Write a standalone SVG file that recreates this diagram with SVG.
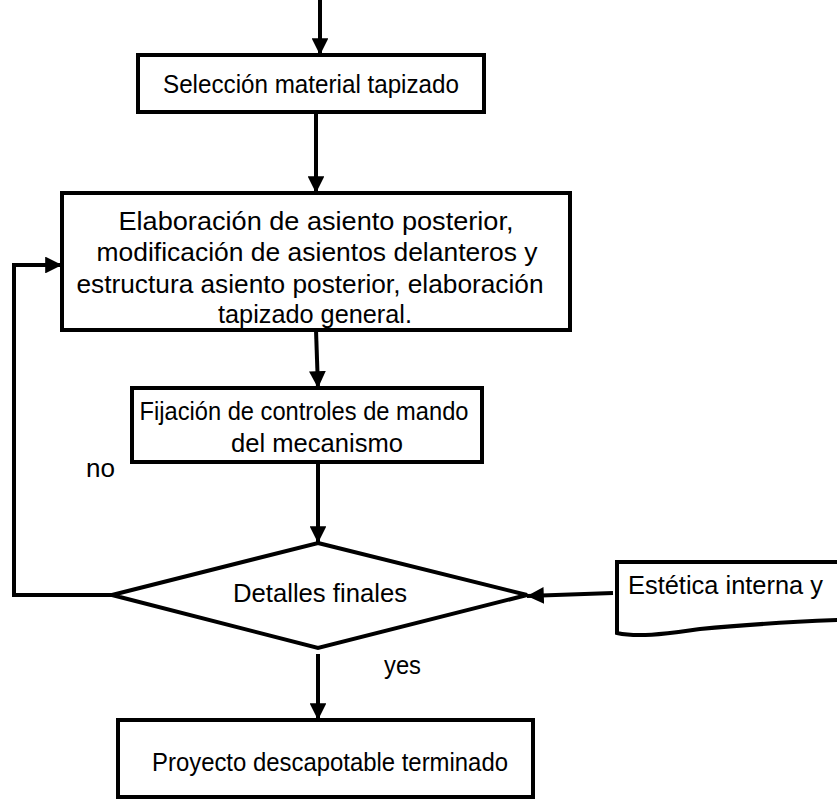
<svg xmlns="http://www.w3.org/2000/svg" width="837" height="799" viewBox="0 0 837 799">
  <style>
    .box { fill: #ffffff; stroke: #000000; stroke-width: 4; }
    .edge { fill: none; stroke: #000000; stroke-width: 4; }
    .lbl { font-family: "Liberation Sans", Arial, sans-serif; font-size: 26px; fill: #000000; }
    .mid { text-anchor: middle; }
  </style>
  <defs>
    <marker id="arrow" viewBox="0 0 10 10" refX="10" refY="5" markerWidth="4.2" markerHeight="4.2" markerUnits="strokeWidth" orient="auto">
      <path d="M0,0 L10,5 L0,10 Z" fill="#000000"/>
    </marker>
  </defs>

  <!-- connectors -->
  <g id="connectors">
    <path class="edge" d="M320,0 L320,55" marker-end="url(#arrow)"/>
    <path class="edge" d="M316,112 L316,193" marker-end="url(#arrow)"/>
    <path class="edge" d="M316,330 L318,388" marker-end="url(#arrow)"/>
    <path class="edge" d="M318,462 L318,543" marker-end="url(#arrow)"/>
    <path class="edge" d="M318,654 L318,720" marker-end="url(#arrow)"/>
    <path class="edge" d="M112,595 L14,595 L14,265 L62,265" marker-end="url(#arrow)"/>
    <path class="edge" d="M613,593 L527,596" marker-end="url(#arrow)"/>
  </g>

  <g id="seleccion">
    <rect class="box" x="138" y="55" width="346" height="57"/>
    <text class="lbl mid" x="311" y="93" textLength="296" lengthAdjust="spacingAndGlyphs">Selección material tapizado</text>
  </g>

  <g id="elaboracion">
    <rect class="box" x="62" y="193" width="508" height="137"/>
    <text class="lbl mid" x="316" y="230" textLength="395" lengthAdjust="spacingAndGlyphs">Elaboración de asiento posterior,</text>
    <text class="lbl mid" x="317" y="261" textLength="441" lengthAdjust="spacingAndGlyphs">modificación de asientos delanteros y</text>
    <text class="lbl mid" x="310" y="293" textLength="467" lengthAdjust="spacingAndGlyphs">estructura asiento posterior, elaboración</text>
    <text class="lbl mid" x="315" y="323" textLength="194" lengthAdjust="spacingAndGlyphs">tapizado general.</text>
  </g>

  <g id="fijacion">
    <rect class="box" x="132" y="388" width="350" height="74"/>
    <text class="lbl mid" x="304" y="420" textLength="329" lengthAdjust="spacingAndGlyphs">Fijación de controles de mando</text>
    <text class="lbl mid" x="317" y="452" textLength="172" lengthAdjust="spacingAndGlyphs">del mecanismo</text>
  </g>

  <g id="detalles">
    <path class="box" d="M318,543 L527,595 L318,648 L112,595 Z"/>
    <text class="lbl mid" x="320" y="602" textLength="174" lengthAdjust="spacingAndGlyphs">Detalles finales</text>
  </g>

  <g id="estetica">
    <path class="box" d="M617,562 L840,562 L840,620 C790,622 740,625 700,629 C670,633 640,638 617,633 Z"/>
    <text class="lbl" x="628" y="594" textLength="195" lengthAdjust="spacingAndGlyphs">Estética interna y</text>
  </g>

  <g id="terminado">
    <rect class="box" x="118" y="720" width="415" height="77"/>
    <text class="lbl mid" x="330" y="771" textLength="356" lengthAdjust="spacingAndGlyphs">Proyecto descapotable terminado</text>
  </g>

  <text class="lbl" x="86" y="477" textLength="29" lengthAdjust="spacingAndGlyphs">no</text>
  <text class="lbl" x="384" y="674" textLength="37" lengthAdjust="spacingAndGlyphs">yes</text>
</svg>
